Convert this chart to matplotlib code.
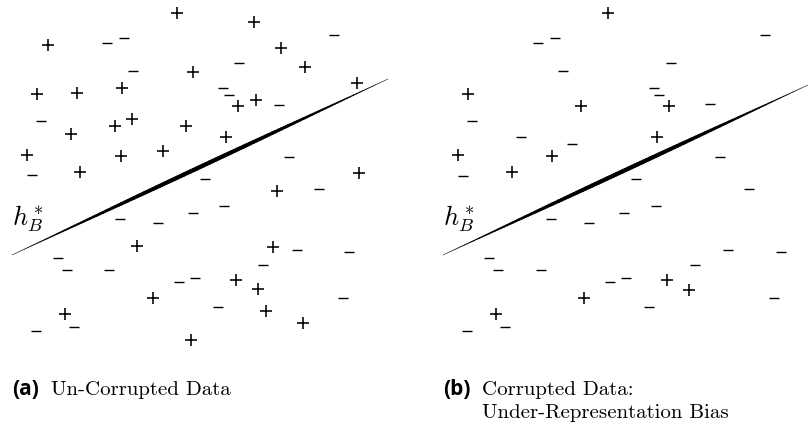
import numpy as np
import matplotlib
matplotlib.use("Agg")
import matplotlib.pyplot as plt
from matplotlib.collections import LineCollection

plt.rcParams['mathtext.fontset'] = 'cm'

# ---- Panel (a): un-corrupted data (pixel-like coordinates, y downwards) ----
a_plus_x = [177, 254, 48, 281, 305, 193, 357, 37, 77, 122, 256, 238, 115, 132, 186,
            71, 226, 27, 121, 163, 80, 359, 277, 137, 273, 236, 258, 153, 266, 65, 303, 191]
a_plus_y = [13, 22, 45, 48, 67, 72, 83, 94, 93, 88, 100, 106, 126, 119, 126,
            134, 137, 155, 156, 151, 172, 173, 191, 246, 247, 280, 289, 298, 311, 314, 323, 340]
a_minus_x = [107, 124, 334, 133, 239, 223, 229, 279, 41, 289, 32, 205, 319, 224, 193,
             120, 158, 58, 67, 109, 297, 349, 263, 179, 195, 218, 343, 74, 36]
a_minus_y = [43, 38, 35, 71, 63, 88, 95, 105, 121, 157, 175, 179, 189, 206, 213,
             219, 223, 258, 270, 270, 250, 252, 265, 282, 278, 307, 298, 327, 331]
a_line_x = [12, 388]
a_line_y = [255, 79]

# ---- Panel (b): corrupted data, under-representation bias ----
b_plus_x = [177, 37, 150, 238, 226, 27, 121, 81, 153, 236, 258, 65]
b_plus_y = [13, 94, 106, 106, 137, 155, 156, 172, 298, 280, 290, 314]
b_minus_x = [107, 124, 334, 132, 240, 223, 228, 279, 41, 90, 141, 289, 32, 205, 318,
             225, 193, 120, 158, 58, 67, 110, 297, 350, 264, 179, 195, 218, 343, 74, 36]
b_minus_y = [43, 38, 35, 71, 63, 88, 95, 104, 121, 137, 144, 157, 176, 179, 189,
             206, 213, 219, 223, 258, 270, 270, 250, 252, 265, 282, 278, 307, 298, 327, 331]
b_line_x = [12, 377]
b_line_y = [255, 85]

captions = ["(a)", "(b)"]
caption_lines = [["Un-Corrupted Data"], ["Corrupted Data:", "Under-Representation Bias"]]
line_label = r"$h^*_B$"

W, H = 808, 425
DPI = 100
fig = plt.figure(figsize=(W / DPI, H / DPI), dpi=DPI)

PANEL_OFF = 431
panels = [
    (0, a_plus_x, a_plus_y, a_minus_x, a_minus_y, a_line_x, a_line_y),
    (PANEL_OFF, b_plus_x, b_plus_y, b_minus_x, b_minus_y, b_line_x, b_line_y),
]

def tapered_line(ax, xs, ys):
    n = 120
    t = np.linspace(0, 1, n + 1)
    px = xs[0] + (xs[1] - xs[0]) * t
    py = ys[0] + (ys[1] - ys[0]) * t
    pts = np.column_stack([px, py]).reshape(-1, 1, 2)
    segs = np.concatenate([pts[:-1], pts[1:]], axis=1)
    tm = 0.5 * (t[:-1] + t[1:])
    widths = 0.35 + 2.7 * np.sin(np.pi * tm) ** 1.3
    lc = LineCollection(segs, linewidths=widths, colors='black', capstyle='round')
    ax.add_collection(lc)

for i, (off, px_, py_, mx_, my_, lx, ly) in enumerate(panels):
    ax = fig.add_axes([off / W, 0, 431 / W, 1])
    ax.set_xlim(0, 431)
    ax.set_ylim(H, 0)
    ax.axis('off')
    ax.scatter(px_, py_, marker='+', s=(12.5 * 72 / DPI) ** 2, linewidths=1.15, color='black')
    ax.scatter(mx_, my_, marker='_', s=(10.5 * 72 / DPI) ** 2, linewidths=1.0, color='black')
    tapered_line(ax, lx, ly)
    ax.text(12, 225, line_label, fontsize=19, ha='left', va='baseline')
    ax.text(12, 395, captions[i], fontsize=15, fontfamily='Open Sans',
            fontweight='bold', ha='left', va='baseline')
    for j, ln in enumerate(caption_lines[i]):
        ax.text(51, 395 + 23 * j, ln, fontsize=15, fontfamily='cmr10',
                ha='left', va='baseline')

fig.savefig("out.png", dpi=DPI)
